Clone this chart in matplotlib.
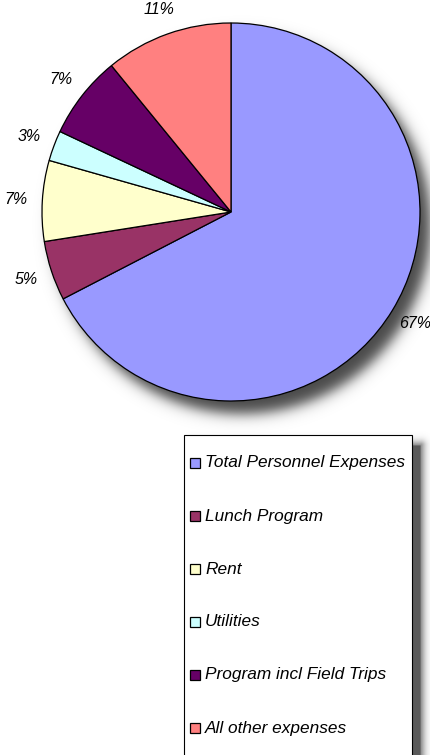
import numpy as np
import matplotlib.pyplot as plt
from matplotlib.patches import Rectangle

plt.rcParams['font.family'] = ['Liberation Sans', 'DejaVu Sans']

# Expense categories and their share of the budget (percent)
categories = ['Total Personnel Expenses', 'Lunch Program', 'Rent', 'Utilities',
              'Program incl Field Trips', 'All other expenses']
shares = [67.4, 5.1, 6.9, 2.6, 7.1, 10.9]
colors = ['#9999FF', '#993366', '#FFFFCC', '#CCFFFF', '#660066', '#FF8080']

W, H = 431, 755
fig = plt.figure(figsize=(W / 100, H / 100), dpi=100)

# background axes in pixel coordinates (legend + its shadow)
lax = fig.add_axes([0, 0, 1, 1])
lax.set_xlim(0, W)
lax.set_ylim(0, H)
lax.axis('off')


def soft_shadow(ax, extent, dist_fn, strength=0.55, soft=5.0):
    x0, x1, y0, y1 = extent
    X, Y = np.meshgrid(np.linspace(x0, x1, 500), np.linspace(y0, y1, 500))
    val = 0.5 * (1 - np.tanh(dist_fn(X, Y) / soft))
    img = np.zeros(X.shape + (4,))
    img[..., 3] = strength * val
    ax.imshow(img, extent=(x0, x1, y0, y1), origin='lower', zorder=0,
              interpolation='bilinear', aspect='auto')


# legend box (pixel coords, y measured from top)
bx0, by0, bx1 = 184, 435, 412
sdx, sdy = 9, 10
def box_dist(X, Y):
    Yt = H - Y
    dx = np.maximum(np.maximum((bx0 + sdx) - X, X - (bx1 + sdx)), 0)
    dy = np.maximum((by0 + sdy) - Yt, 0)
    inside = (dx == 0) & (dy == 0)
    return np.hypot(dx, dy) - 2 - np.where(inside, 20, 0)
soft_shadow(lax, (bx0, W, 0, H - by0 + 10), box_dist, strength=0.65, soft=5.0)
lax.add_patch(Rectangle((bx0, -20), bx1 - bx0, H - by0 + 20, facecolor='white',
                        edgecolor='black', lw=0.8, zorder=2))

row_y0, row_step = 463, 53
for i, (name, col) in enumerate(zip(categories, colors)):
    y = H - (row_y0 + i * row_step)
    lax.add_patch(Rectangle((190, y - 5), 10, 10, facecolor=col,
                            edgecolor='black', lw=0.9, zorder=3))
    lax.text(205, y, name, fontsize=12.4, style='italic', va='center',
             ha='left', zorder=3)

# pie axes: centre (231, 212), radius 189 px; limits padded for the shadow
cx, cy, r = 231, 212, 189
L = 1.3
ax = fig.add_axes([(cx - L * r) / W, 1 - (cy + L * r) / H, 2 * L * r / W, 2 * L * r / H])
ax.set_xlim(-L, L)
ax.set_ylim(-L, L)
ax.set_aspect('equal')
ax.axis('off')

ox, oy = 11 / r, -13 / r
def disc_dist(X, Y):
    return (np.hypot(X - ox, Y - oy) - 1.0) * r
soft_shadow(ax, (-L, L, -L, L), disc_dist, strength=0.72, soft=8.0)

wedges, texts, autotexts = ax.pie(
    shares, colors=colors, startangle=90, counterclock=False, radius=1.0,
    autopct='%.0f%%', pctdistance=1.14,
    wedgeprops=dict(edgecolor='black', linewidth=0.9),
    textprops=dict(fontsize=11.5, style='italic'))
for w in wedges:
    w.set_zorder(2)
ax.set_xlim(-L, L)
ax.set_ylim(-L, L)

fig.savefig('out.png', dpi=100)
